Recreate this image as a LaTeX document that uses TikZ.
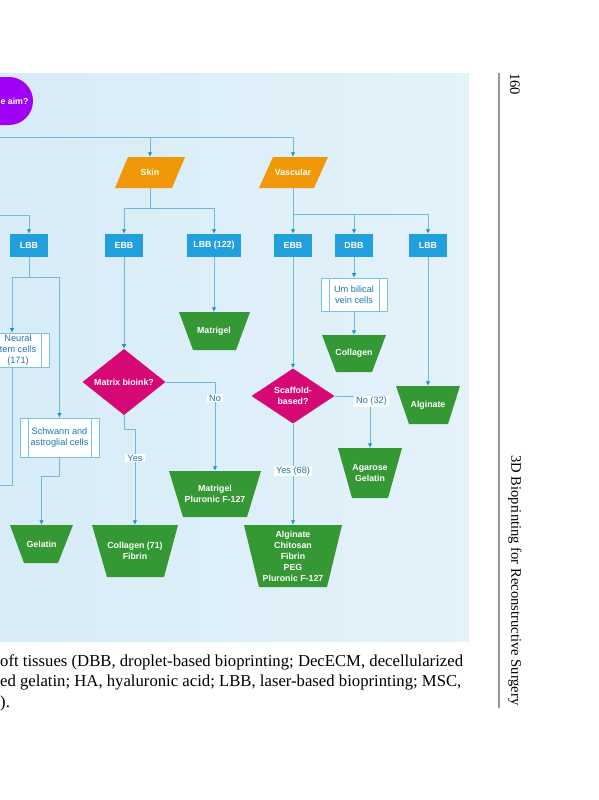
\documentclass[tikz,border=0pt]{standalone}
\usepackage{fontspec}
\setmainfont{Liberation Serif}
\newfontfamily\chartfont{Liberation Sans}
\usetikzlibrary{arrows.meta,shapes.geometric}

\definecolor{panelleft}{RGB}{215,236,247}
\definecolor{panelright}{RGB}{228,242,250}
\definecolor{aimpurple}{RGB}{160,0,245}
\definecolor{tissueorange}{RGB}{240,152,8}
\definecolor{methodblue}{RGB}{34,160,222}
\definecolor{decmagenta}{RGB}{214,8,118}
\definecolor{inkgreen}{RGB}{52,152,52}
\definecolor{lineblue}{RGB}{110,186,216}
\definecolor{tipblue}{RGB}{35,145,205}
\definecolor{textblue}{RGB}{28,118,182}
\definecolor{boxblue}{RGB}{120,195,225}
\definecolor{rulegray}{RGB}{150,150,150}

\begin{document}
\begin{tikzpicture}[x=1pt,y=-1pt,
    conn/.style={draw=lineblue, line width=0.8pt, -{Latex[length=4.5pt,width=4.5pt,color=tipblue]}},
    link/.style={draw=lineblue, line width=0.8pt},
    txt/.style={font=\chartfont\fontsize{9.2}{11}\selectfont, align=center, inner sep=0pt},
    wtxt/.style={txt, text=white, font=\chartfont\bfseries\fontsize{8.8}{11}\selectfont},
    method/.style={wtxt, rectangle, fill=methodblue, minimum width=38pt, minimum height=23pt},
    decision/.style={wtxt, diamond, fill=decmagenta, minimum width=83pt, minimum height=50pt},
    procbox/.style={txt, rectangle, draw=boxblue, line width=0.7pt, fill=white, text=textblue,
        path picture={\draw[boxblue, line width=0.7pt]
            ([xshift=8pt]path picture bounding box.north west) -- ([xshift=8pt]path picture bounding box.south west)
            ([xshift=-8pt]path picture bounding box.north east) -- ([xshift=-8pt]path picture bounding box.south east);}},
    answer/.style={txt, fill=white, text=textblue, inner xsep=2pt, inner ysep=1.2pt},
    caption/.style={anchor=base west, inner sep=0pt, font=\fontsize{16.7}{20.5}\selectfont},
    runhead/.style={anchor=west, inner sep=0pt, rotate=-90, font=\fontsize{14.6}{16}\selectfont}
]
        \useasboundingbox (0,0) rectangle (599,800);

        % panel
        \shade[left color=panelleft, right color=panelright] (0,73) rectangle (469,641);

        % aim
        \fill[aimpurple, rounded corners=24pt] (-60,77) rectangle (33,125);
        \node[wtxt] (aim) at (14.5,101) {e aim?};

        \coordinate (rootsplit) at (0,137.5);
        \coordinate (leftin) at (0,215);
        \coordinate (leftout) at (0,485);

        % tissues
        \fill[tissueorange] (115,188) -- (128,157) -- (185,157) -- (172,188) -- cycle;
        \node[wtxt, minimum width=56pt, minimum height=31pt] (skin) at (150,172.5) {Skin};

        \fill[tissueorange] (259,188) -- (273,157) -- (328,157) -- (314,188) -- cycle;
        \node[wtxt, minimum width=55pt, minimum height=31pt] (vascular) at (293,172.5) {Vascular};

        % printing methods
        \node[method] (lbbL) at (29,245.5) {LBB};
        \node[method] (ebbS) at (124,245.5) {EBB};
        \node[method, minimum width=54pt] (lbbS) at (214,245.5) {LBB (122)};
        \node[method] (ebbV) at (293,245.5) {EBB};
        \node[method] (dbbV) at (354,245.5) {DBB};
        \node[method] (lbbV) at (428,245.5) {LBB};

        % cells
        \node[procbox, minimum width=62pt, minimum height=34pt] (neural) at (18,350) {Neural\\tem cells\\(171)};
        \node[procbox, minimum width=79pt, minimum height=39pt] (schwann) at (59.5,437.5) {Schwann and\\astroglial cells};
        \node[procbox, minimum width=66pt, minimum height=33pt] (umb) at (354,294.5) {Um bilical\\vein cells};

        % decisions
        \node[decision] (matrix) at (124,382) {Matrix bioink?};
        \node[decision] (scaffold) at (293,396) {Scaffold-\\based?};

        % bioinks
        \fill[inkgreen] (179,312) -- (250,312) -- (236,350) -- (193,350) -- cycle;
        \node[wtxt, minimum height=38pt] (matS) at (214,331) {Matrigel};

        \fill[inkgreen] (169,471) -- (261,471) -- (247,517) -- (183,517) -- cycle;
        \node[wtxt, minimum height=46pt] (plurS) at (215,494) {Matrigel\\Pluronic F-127};

        \fill[inkgreen] (92,525) -- (178,525) -- (164,577) -- (107,577) -- cycle;
        \node[wtxt, minimum height=52pt] (colS) at (135,551) {Collagen (71)\\Fibrin};

        \fill[inkgreen] (10,525) -- (73,525) -- (58,563) -- (24,563) -- cycle;
        \node[wtxt, minimum height=38pt] (gelatin) at (41.5,544) {Gelatin};

        \fill[inkgreen] (322,335) -- (386,335) -- (372,372) -- (336,372) -- cycle;
        \node[wtxt, minimum height=37pt] (colV) at (354,353.5) {Collagen};

        \fill[inkgreen] (396,386) -- (460,386) -- (448,424) -- (409,424) -- cycle;
        \node[wtxt, minimum height=38pt] (algV) at (428,405) {Alginate};

        \fill[inkgreen] (338,448) -- (402,448) -- (388,498) -- (352,498) -- cycle;
        \node[wtxt, minimum height=50pt] (agar) at (370,473) {Agarose\\Gelatin};

        \fill[inkgreen] (244,525) -- (342,525) -- (327,587) -- (259,587) -- cycle;
        \node[wtxt, minimum height=62pt] (mix) at (293,556) {Alginate\\Chitosan\\Fibrin\\PEG\\Pluronic F-127};

        % connectors
        \draw[conn] (rootsplit) -| (skin.north);
        \draw[conn] (rootsplit) -| (vascular.north);

        \draw[conn] (leftin) -| (lbbL.north);
        \coordinate (lsplit) at (29,277);
        \draw[link] (lbbL.south) -- (lsplit);
        \draw[conn] (lsplit) -| ([xshift=-6pt]neural.north);
        \draw[conn] (lsplit) -| (schwann.north);
        \draw[link] ([xshift=-6pt]neural.south) |- (leftout);
        \draw[conn] (schwann.south) -- ++(0,19) -| (gelatin.north);

        \coordinate (skinsplit) at (150,208);
        \draw[link] (skin.south) -- (skinsplit);
        \draw[conn] (skinsplit) -| (ebbS.north);
        \draw[conn] (skinsplit) -| (lbbS.north);
        \draw[conn] (lbbS.south) -- (matS.north);
        \draw[conn] (ebbS.south) -- (matrix.north);
        \draw[conn] (matrix.east) -| (plurS.north);
        \draw[conn] (matrix.south) -- ++(0,14) -| (colS.north);

        \coordinate (vascsplit) at (293,214);
        \draw[link] (vascular.south) -- (vascsplit);
        \draw[conn] (vascsplit) -- (ebbV.north);
        \draw[conn] (vascsplit) -| (dbbV.north);
        \draw[conn] (vascsplit) -| (lbbV.north);
        \draw[conn] (dbbV.south) -- (umb.north);
        \draw[conn] (umb.south) -- (colV.north);
        \draw[conn] (lbbV.south) -- (algV.north);
        \draw[conn] (ebbV.south) -- (scaffold.north);
        \draw[conn] (scaffold.east) -| (agar.north);
        \draw[conn] (scaffold.south) -- (mix.north);

        \node[answer] (noS) at (215,398) {No};
        \node[answer] (yesS) at (135,458) {Yes};
        \node[answer] (noV) at (371.5,401.5) {No (32)};
        \node[answer] (yesV) at (293,471) {Yes (68)};

        % page
        \draw[rulegray, line width=1.4pt] (499,73) -- (499,708);
        \node[runhead] (folio) at (515,73) {160};
        \node[runhead] (title) at (515,455) {3D Bioprinting for Reconstructive Surgery};

        \node[caption] (capA) at (0,666) {oft tissues (DBB, droplet-based bioprinting; DecECM, decellularized};
        \node[caption] (capB) at (0,686.5) {ed gelatin; HA, hyaluronic acid; LBB, laser-based bioprinting; MSC,};
        \node[caption] (capC) at (0,707) {).};

\end{tikzpicture}
\end{document}
